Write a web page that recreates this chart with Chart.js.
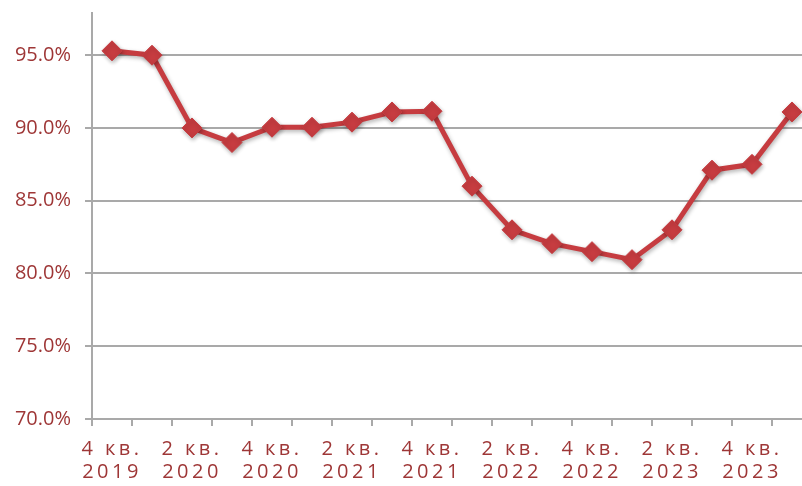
<!DOCTYPE html>
<html>
<head>
<meta charset="utf-8">
<script src="https://cdn.jsdelivr.net/npm/chart.js@4"></script>
<style>
  body { margin: 0; overflow: hidden; background: #fff; }
</style>
</head>
<body>
<canvas id="myChart" width="812" height="486"></canvas>
<script>
// quarters, Q4 2019 .. Q1 2024
const categories = ['4 кв. 2019', '1 кв. 2020', '2 кв. 2020', '3 кв. 2020', '4 кв. 2020', '1 кв. 2021',
  '2 кв. 2021', '3 кв. 2021', '4 кв. 2021', '1 кв. 2022', '2 кв. 2022', '3 кв. 2022',
  '4 кв. 2022', '1 кв. 2023', '2 кв. 2023', '3 кв. 2023', '4 кв. 2023', '1 кв. 2024'];
const values = [95.3, 95.0, 90.0, 89.0, 90.05, 90.05, 90.4, 91.1, 91.15, 86.0, 83.0, 82.05,
  81.5, 80.95, 83.0, 87.1, 87.5, 91.1];
const yTicks = [70, 75, 80, 85, 90, 95];

const red = '#c63c40';
const textColor = '#9e3636';
const gridColor = '#a9a9a9';

// shadow under the line and markers
const shadowPlugin = {
  id: 'shadow',
  beforeDatasetsDraw(chart) {
    const ctx = chart.ctx;
    ctx.save();
    ctx.shadowColor = 'rgba(0,0,0,0.3)';
    ctx.shadowBlur = 4;
    ctx.shadowOffsetX = 1;
    ctx.shadowOffsetY = 2;
  },
  afterDatasetsDraw(chart) {
    chart.ctx.restore();
  }
};

// spaced-out letters on the category labels
const spacingPlugin = {
  id: 'spacing',
  beforeDraw(chart) {
    const x = chart.scales.x;
    if (x._spaced) return;
    const orig = x.drawLabels;
    x.drawLabels = function () {
      const ctx = this.ctx;
      ctx.save();
      ctx.letterSpacing = '3.5px';
      orig.apply(this, arguments);
      ctx.restore();
    };
    x._spaced = true;
  }
};

function noPadding(scale) {
  scale.paddingTop = 0;
  scale.paddingBottom = 0;
  scale.paddingLeft = 0;
  scale.paddingRight = 0;
}

const ctx = document.getElementById('myChart');

new Chart(ctx, {
  type: 'line',
  data: {
    labels: categories,
    datasets: [{
      data: values,
      borderColor: red,
      backgroundColor: red,
      borderWidth: 5,
      pointStyle: 'rectRot',
      pointRadius: 10,
      pointBorderWidth: 1,
      pointBackgroundColor: red,
      pointBorderColor: red,
      tension: 0,
      clip: false
    }]
  },
  options: {
    responsive: false,
    animation: false,
    layout: { autoPadding: false, padding: { top: 13, left: 0, right: 0, bottom: 0 } },
    scales: {
      x: {
        offset: true,
        grid: {
          offset: true,
          drawOnChartArea: false,
          drawTicks: true,
          tickLength: 7,
          color: gridColor,
          lineWidth: 2
        },
        border: { display: false },
        ticks: {
          autoSkip: false,
          maxRotation: 0,
          padding: 12,
          color: textColor,
          font: { family: "'Open Sans', sans-serif", size: 20, lineHeight: 1.15 },
          callback: function (value, index) {
            if (index % 2) return '';
            const s = this.getLabelForValue(value);
            return [s.slice(0, 5), s.slice(6)];
          }
        },
        afterFit: function (scale) {
          scale.height = 67;
          noPadding(scale);
        }
      },
      y: {
        min: 70,
        max: 97.9,
        afterBuildTicks: function (axis) {
          axis.ticks = yTicks.map(v => ({ value: v }));
        },
        grid: {
          color: gridColor,
          lineWidth: 2,
          tickLength: 7
        },
        border: { display: true, color: gridColor, width: 2 },
        ticks: {
          padding: 14,
          color: textColor,
          font: { family: "'Open Sans', sans-serif", size: 20 },
          callback: function (value) {
            return value.toFixed(1) + '%';
          }
        },
        afterFit: function (scale) {
          scale.width = 92;
          noPadding(scale);
        }
      }
    },
    plugins: {
      legend: { display: false },
      tooltip: { enabled: false }
    }
  },
  plugins: [shadowPlugin, spacingPlugin]
});
</script>
</body>
</html>
